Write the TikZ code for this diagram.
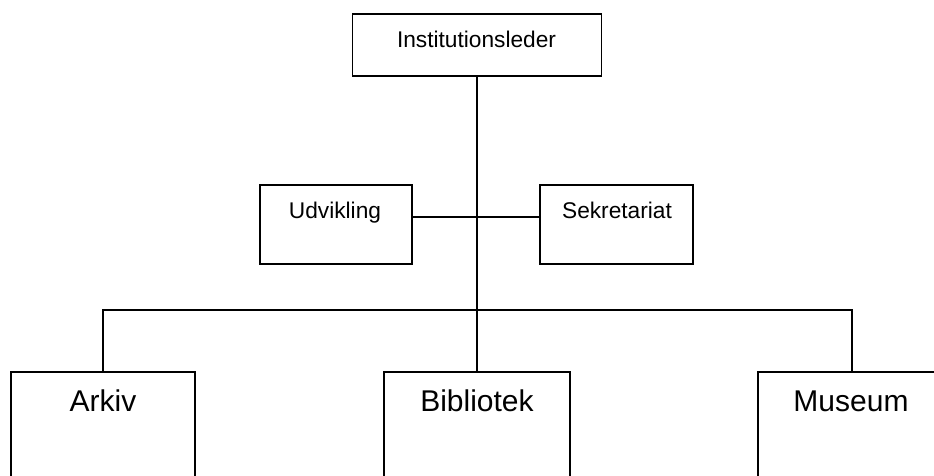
\documentclass[tikz,border=0pt]{standalone}
\usepackage{fontspec}
\setmainfont{Liberation Sans}
\usepackage{tikz}
\tikzstyle{orgchart}=[x=1pt, y=-1pt, line width=1.4pt, draw=black]
\tikzstyle{box}=[rectangle, draw, line width=1.4pt, fill=white, inner sep=0pt]
\tikzstyle{small}=[anchor=base, inner sep=0pt, font=\fontsize{22.7}{27}\selectfont]
\tikzstyle{big}=[anchor=base, inner sep=0pt, font=\fontsize{30}{36}\selectfont]
\tikzstyle{wire}=[-, line width=1.4pt]
\newcommand{\busY}{310}
\newcommand{\sideY}{217}
\newcommand{\topY}{47.7}
\newcommand{\midY}{218.3}
\newcommand{\lowY}{411}
\begin{document}
\begin{tikzpicture}[orgchart]
	\useasboundingbox (0,0) rectangle (934,475);
	\clip (0,0) rectangle (934,475);
	
	\draw (477,45) node[box, minimum width=249, minimum height=62] (head) {};
	\draw (476.5,\topY) node[small] (head-t) {Institutionsleder};
	%%
	\draw (336,224.5) node[box, minimum width=152, minimum height=79] (dev) {};
	\draw (335,\midY) node[small] (dev-t) {Udvikling};
	\draw (616.5,224.5) node[box, minimum width=153, minimum height=79] (sec) {};
	\draw (617,\midY) node[small] (sec-t) {Sekretariat};
	%%
	\draw (103,436) node[box, minimum width=184, minimum height=128] (ark) {};
	\draw (103,\lowY) node[big] (ark-t) {Arkiv};
	\draw (477,436) node[box, minimum width=186, minimum height=128] (bib) {};
	\draw (477,\lowY) node[big] (bib-t) {Bibliotek};
	\draw (852,436) node[box, minimum width=188, minimum height=128] (mus) {};
	\draw (851,\lowY) node[big] (mus-t) {Museum};
	%%
	\draw[wire] (head.south) -- (bib.north);
	\draw[wire] (dev.east |- 0,\sideY) -- (sec.west |- 0,\sideY);
	\draw[wire] (ark.north) |- (bib.north |- 0,\busY) -| (mus.north);
\end{tikzpicture}
\end{document}
